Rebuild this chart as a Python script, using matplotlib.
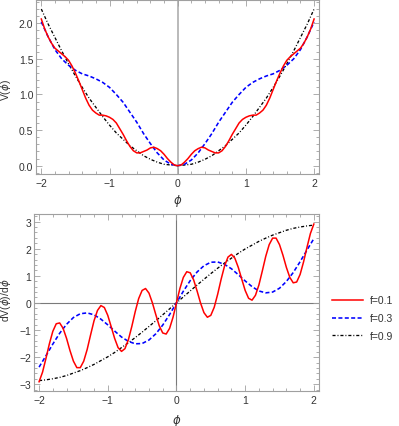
import numpy as np
import matplotlib.pyplot as plt
from matplotlib.ticker import MultipleLocator, FormatStrFormatter

plt.rcParams['font.family'] = ['Liberation Sans', 'DejaVu Sans']
plt.rcParams['lines.scale_dashes'] = False

phi_fine = np.linspace(-2.0, 2.0, 81)     # f=0.1, step 0.05
phi_coarse = np.linspace(-2.0, 2.0, 41)   # f=0.3 and f=0.9, step 0.1

# V(phi)
V_f01 = [2.06, 1.92, 1.81, 1.72, 1.65, 1.61, 1.57, 1.53, 1.48, 1.40,
         1.30, 1.19, 1.07, 0.95, 0.85, 0.78, 0.74, 0.71, 0.71, 0.70,
         0.68, 0.65, 0.60, 0.52, 0.44, 0.35, 0.27, 0.21, 0.18, 0.18,
         0.20, 0.22, 0.25, 0.26, 0.24, 0.21, 0.16, 0.10, 0.05, 0.01,
         0.00,
         0.01, 0.05, 0.10, 0.16, 0.21, 0.24, 0.26, 0.25, 0.22, 0.20,
         0.18, 0.18, 0.21, 0.27, 0.35, 0.44, 0.52, 0.60, 0.65, 0.68,
         0.70, 0.71, 0.71, 0.74, 0.78, 0.85, 0.95, 1.07, 1.19, 1.30,
         1.40, 1.48, 1.53, 1.57, 1.61, 1.65, 1.72, 1.81, 1.92, 2.06]
V_f03 = [2.02, 1.81, 1.63, 1.50, 1.41, 1.34, 1.29, 1.26, 1.22, 1.17,
         1.10, 1.00, 0.89, 0.75, 0.61, 0.45, 0.31, 0.18, 0.08, 0.02,
         0.00,
         0.02, 0.08, 0.18, 0.31, 0.45, 0.61, 0.75, 0.89, 1.00, 1.10,
         1.17, 1.22, 1.26, 1.29, 1.34, 1.41, 1.50, 1.63, 1.81, 2.02]
V_f09 = [2.20, 1.99, 1.80, 1.61, 1.43, 1.26, 1.10, 0.95, 0.82, 0.69,
         0.57, 0.46, 0.37, 0.28, 0.21, 0.14, 0.09, 0.05, 0.02, 0.01,
         0.00,
         0.01, 0.02, 0.05, 0.09, 0.14, 0.21, 0.28, 0.37, 0.46, 0.57,
         0.69, 0.82, 0.95, 1.10, 1.26, 1.43, 1.61, 1.80, 1.99, 2.20]

# dV(phi)/dphi
dV_f01 = [-2.91, -2.56, -2.05, -1.51, -1.05, -0.77, -0.74, -0.94, -1.31, -1.76,
          -2.15, -2.39, -2.39, -2.15, -1.72, -1.18, -0.66, -0.28, -0.10, -0.17,
          -0.46, -0.88, -1.31, -1.65, -1.79, -1.69, -1.36, -0.87, -0.32, 0.16,
          0.46, 0.53, 0.36, 0.00, -0.44, -0.85, -1.11, -1.15, -0.94, -0.53,
          0.00,
          0.53, 0.94, 1.15, 1.11, 0.85, 0.44, 0.00, -0.36, -0.53, -0.46,
          -0.16, 0.32, 0.87, 1.36, 1.69, 1.79, 1.65, 1.31, 0.88, 0.46,
          0.17, 0.10, 0.28, 0.66, 1.18, 1.72, 2.15, 2.39, 2.39, 2.15,
          1.76, 1.31, 0.94, 0.74, 0.77, 1.05, 1.51, 2.05, 2.56, 2.91]
dV_f03 = [-2.37, -1.95, -1.52, -1.12, -0.79, -0.54, -0.40, -0.37, -0.44, -0.60,
          -0.81, -1.04, -1.26, -1.42, -1.51, -1.50, -1.37, -1.14, -0.82, -0.43,
          0.00,
          0.43, 0.82, 1.14, 1.37, 1.50, 1.51, 1.42, 1.26, 1.04, 0.81,
          0.60, 0.44, 0.37, 0.40, 0.54, 0.79, 1.12, 1.52, 1.95, 2.37]
dV_f09 = [-2.87, -2.84, -2.80, -2.75, -2.68, -2.59, -2.50, -2.39, -2.27, -2.13,
          -1.99, -1.83, -1.65, -1.47, -1.28, -1.08, -0.87, -0.66, -0.44, -0.22,
          0.00,
          0.22, 0.44, 0.66, 0.87, 1.08, 1.28, 1.47, 1.65, 1.83, 1.99,
          2.13, 2.27, 2.39, 2.50, 2.59, 2.68, 2.75, 2.80, 2.84, 2.87]

labels = ["f=0.1", "f=0.3", "f=0.9"]

frame_col = '#a0a0a0'
text_col = '#333333'
fs = 7.5


def style(ax, ymajor, yminor, fmt=None):
    for s in ax.spines.values():
        s.set_color(frame_col)
        s.set_linewidth(0.8)
    ax.xaxis.set_major_locator(MultipleLocator(1))
    ax.xaxis.set_minor_locator(MultipleLocator(0.2))
    ax.yaxis.set_major_locator(MultipleLocator(ymajor))
    ax.yaxis.set_minor_locator(MultipleLocator(yminor))
    if fmt:
        ax.yaxis.set_major_formatter(FormatStrFormatter(fmt))
    ax.tick_params(which='both', direction='in', top=True, right=True,
                   color=frame_col, labelcolor=text_col, labelsize=fs, width=0.6)
    ax.tick_params(which='major', length=4)
    ax.tick_params(which='minor', length=2)
    ax.tick_params(axis='y', pad=2)
    ax.tick_params(axis='x', pad=3)


fig = plt.figure(figsize=(3.99, 4.27), dpi=100)

# top: potential
ax1 = fig.add_axes([0.0902, 0.5909, 0.7093, 0.4056])
ax1.axvline(0, color='#b4b4b4', lw=1.3, zorder=1)
ax1.plot(phi_fine, V_f01, color='red', lw=1.1, zorder=4)
ax1.plot(phi_coarse, V_f03, color='blue', lw=1.15, dashes=(2.9, 1.7), zorder=3)
ax1.plot(phi_coarse, V_f09, color='black', lw=0.95, dashes=(2.2, 1.4, 0.7, 1.4), zorder=2)
ax1.set_xlim(-2.078, 2.072)
ax1.set_ylim(-0.112, 2.32)
style(ax1, 0.5, 0.1, '%.1f')
ax1.set_xlabel(r'$\phi$', fontsize=fs + 1, color=text_col)
ax1.xaxis.set_label_coords(0.502, -0.108)
ax1.set_ylabel(r'V($\phi$)', fontsize=fs, color=text_col)
ax1.yaxis.set_label_coords(-0.081, 0.49)

# bottom: derivative
ax2 = fig.add_axes([0.0845, 0.0827, 0.7150, 0.4138])
ax2.axvline(0, color='#7a7a7a', lw=0.8, zorder=1)
ax2.axhline(0, color='#7a7a7a', lw=0.8, zorder=1)
l1, = ax2.plot(phi_fine, dV_f01, color='red', lw=1.1, zorder=4)
l2, = ax2.plot(phi_coarse, dV_f03, color='blue', lw=1.15, dashes=(2.9, 1.7), zorder=3)
l3, = ax2.plot(phi_coarse, dV_f09, color='black', lw=0.95, dashes=(2.2, 1.4, 0.7, 1.4), zorder=2)
ax2.set_xlim(-2.078, 2.075)
ax2.set_ylim(-3.24, 3.28)
style(ax2, 1, 0.2)
ax2.set_xlabel(r'$\phi$', fontsize=fs + 1, color=text_col)
ax2.xaxis.set_label_coords(0.5, -0.118)
ax2.set_ylabel(r'dV($\phi$)/d$\phi$', fontsize=fs, color=text_col)
ax2.yaxis.set_label_coords(-0.073, 0.52)

fig.legend([l1, l2, l3], labels, loc='center left',
           bbox_to_anchor=(0.8313, 0.2522), frameon=False, fontsize=fs,
           handlelength=3.0, handletextpad=0.65, labelspacing=0.75,
           borderpad=0, borderaxespad=0, labelcolor=text_col)

fig.savefig('out.png', dpi=100)
